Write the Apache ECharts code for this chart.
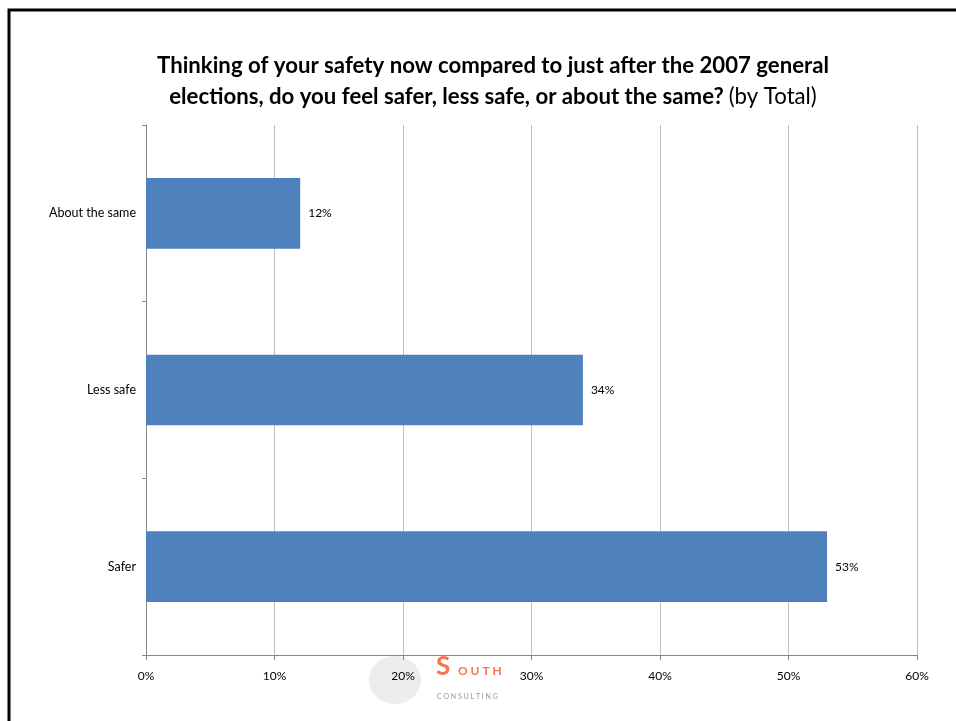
<!DOCTYPE html>
<html><head><meta charset="utf-8">
<script src="https://cdn.jsdelivr.net/npm/echarts@6/dist/echarts.min.js"></script>
<style>html,body{margin:0;padding:0;background:#fff}#c{width:956px;height:721px}</style>
</head><body><div id="c"></div>
<script>
const categories = ['About the same', 'Less safe', 'Safer'];
const values = [12, 34, 53];
const tickLabels = ['0%', '10%', '20%', '30%', '40%', '50%', '60%'];

const chart = echarts.init(document.getElementById('c'));
const FONT = 'Lato, "Open Sans", sans-serif';
chart.setOption({
  animation: false,
  title: {
    text: '{b|Thinking of your safety now compared to just after the 2007 general}\n{b|elections, do you feel safer, less safe, or about the same?} {n|(by Total)}',
    left: 488, top: 45, textAlign: 'center',
    textStyle: {
      rich: {
        b: { fontFamily: FONT, fontWeight: 'bold', fontSize: 22.2, color: '#000', lineHeight: 31 },
        n: { fontFamily: FONT, fontWeight: 'normal', fontSize: 22.2, color: '#000', lineHeight: 31 }
      }
    }
  },
  grid: { left: 146, right: 39, top: 125, bottom: 66 },
  xAxis: {
    type: 'value', min: 0, max: 60, interval: 10,
    axisLine: { show: true, lineStyle: { color: '#868686', width: 1 } },
    axisTick: { show: true, length: 5, lineStyle: { color: '#868686' } },
    splitLine: { show: true, lineStyle: { color: '#BFBFBF', width: 1 } },
    axisLabel: {
      fontFamily: FONT, fontSize: 12, color: '#000', margin: 15,
      formatter: (v) => tickLabels[Math.round(v / 10)]
    }
  },
  yAxis: {
    type: 'category', data: categories, inverse: true,
    axisLine: { show: true, lineStyle: { color: '#868686', width: 1 } },
    axisTick: { show: true, length: 4, lineStyle: { color: '#868686' } },
    axisLabel: { fontFamily: FONT, fontSize: 12.5, color: '#000', margin: 10 }
  },
  series: [{
    type: 'bar', data: values, barWidth: '40%',
    itemStyle: { color: '#4F81BD' },
    label: {
      show: true, position: 'right', distance: 8,
      fontFamily: FONT, fontSize: 12, color: '#000',
      formatter: (p) => p.value + '%'
    }
  }],
  graphic: [
    { type: 'polyline', shape: { points: [[9, 721], [9, 10], [956, 10]] }, style: { stroke: '#000', lineWidth: 3, fill: null }, silent: true },
    { type: 'ellipse', shape: { cx: 395, cy: 680, rx: 26, ry: 24 }, style: { fill: '#EDEDED' }, z: -1, silent: true },
    { type: 'text', left: 436, top: 654, style: { text: 'S', fontFamily: FONT, fontWeight: 'bold', fontSize: 26, fill: '#F7754E' }, silent: true },
    { type: 'text', left: 458, top: 665, style: { text: 'O U T H', fontFamily: FONT, fontWeight: 'bold', fontSize: 12, fill: '#F7754E' }, silent: true },
    { type: 'text', left: 437, top: 693, style: { text: 'C O N S U L T I N G', fontFamily: FONT, fontSize: 7, fill: '#999' }, silent: true }
  ]
});
</script></body></html>
